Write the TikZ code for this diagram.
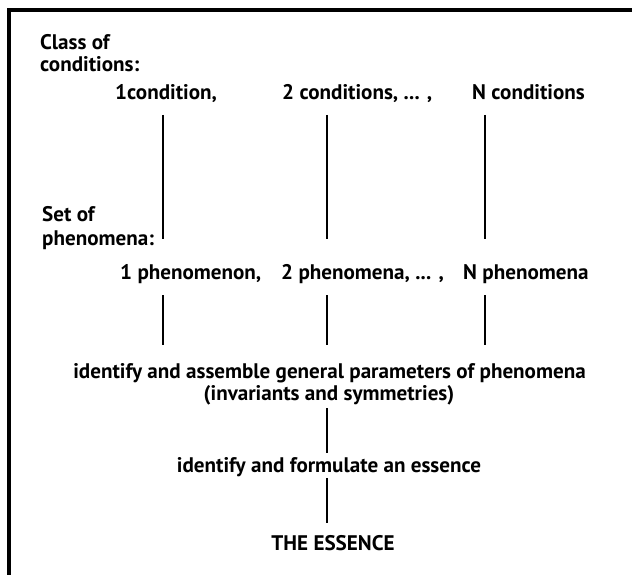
\documentclass[tikz,border=0pt]{standalone}
\usepackage{fontspec}
\setmainfont{PT Sans}
\begin{document}
\begin{tikzpicture}[x=1pt,y=-1pt,
  lbl/.style={inner sep=0pt, font=\bfseries\fontsize{21.1}{24}\selectfont},
  conn/.style={line width=1.6pt},
  frame/.style={line width=4pt}]
\useasboundingbox (0,0) rectangle (632,575);
\fill[white] (0,0) rectangle (632,575);
% frame (cropped)
\draw[frame] (9,575) -- (9,10) -- (632,10);
% row 1
\node[lbl, anchor=base west] (cls1) at (40,50) {Class of};
\node[lbl, anchor=base west] (cls2) at (40,72) {conditions:};
\node[lbl, anchor=base west] (c1) at (115,100) {1condition,};
\node[lbl, anchor=base west] (c2) at (282,100) {2 conditions, ... ,};
\node[lbl, anchor=base west] (cN) at (472,100) {N conditions};
% row 2
\node[lbl, anchor=base west] (set1) at (42,221) {Set of};
\node[lbl, anchor=base west] (set2) at (42,245) {phenomena:};
\node[lbl, anchor=base west] (p1) at (120,279) {1 phenomenon,};
\node[lbl, anchor=base west] (p2) at (281,279) {2 phenomena, ... ,};
\node[lbl, anchor=base west] (pN) at (463,279) {N phenomena};
% centre column
\node[lbl, anchor=base] (gen1) at (329.5,378) {identify and assemble general parameters of phenomena};
\node[lbl, anchor=base] (gen2) at (329,400) {(invariants and symmetries)};
\node[lbl, anchor=base] (form) at (329,472) {identify and formulate an essence};
\node[lbl, anchor=base] (ess) at (333,550) {THE ESSENCE};
% connector end points
\coordinate (a1) at (163,115); \coordinate (b1) at (163,239);
\coordinate (a2) at (327,115); \coordinate (b2) at (327,239);
\coordinate (a3) at (485,115); \coordinate (b3) at (485,239);
\coordinate (d1) at (163,295); \coordinate (e1) at (163,345);
\coordinate (d2) at (327,295); \coordinate (e2) at (327,345);
\coordinate (d3) at (485,295); \coordinate (e3) at (485,345);
\coordinate (f1) at (327,408); \coordinate (g1) at (327,453);
\coordinate (f2) at (327,478); \coordinate (g2) at (327,523);
\draw[conn] (a1) -- (b1);
\draw[conn] (a2) -- (b2);
\draw[conn] (a3) -- (b3);
\draw[conn] (d1) -- (e1);
\draw[conn] (d2) -- (e2);
\draw[conn] (d3) -- (e3);
\draw[conn] (f1) -- (g1);
\draw[conn] (f2) -- (g2);
\end{tikzpicture}
\end{document}
